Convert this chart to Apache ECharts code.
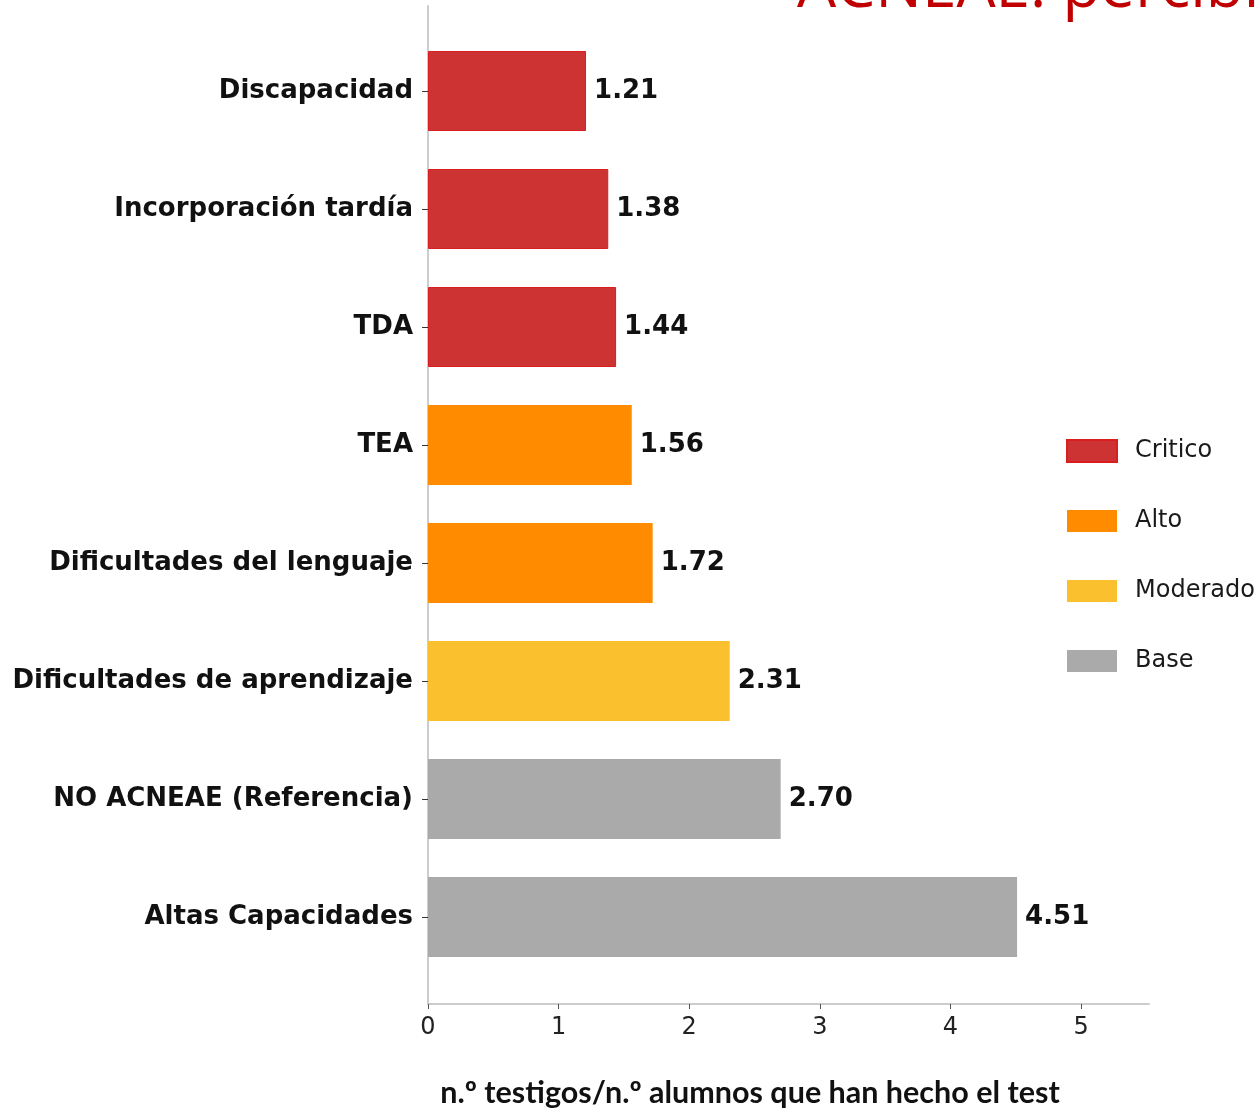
<!DOCTYPE html>
<html><head><meta charset="utf-8">
<script src="https://cdn.jsdelivr.net/npm/echarts@6/dist/echarts.min.js"></script>
<style>html,body{margin:0;padding:0;background:#fff}#c{width:1257px;height:1109px}</style>
</head><body><div id="c"></div>
<script>
const categories = ['Altas Capacidades','NO ACNEAE (Referencia)','Dificultades de aprendizaje','Dificultades del lenguaje','TEA','TDA','Incorporación tardía','Discapacidad'];
const values = [4.51, 2.70, 2.31, 1.72, 1.56, 1.44, 1.38, 1.21];
const levels = ['Base','Base','Moderado','Alto','Alto','Critico','Critico','Critico'];
const levelNames = ['Critico','Alto','Moderado','Base'];
const levelColors = {Critico:'#CD3333', Alto:'#FF8C00', Moderado:'#FBC02D', Base:'#AAAAAA'};
const xTicks = [0, 1, 2, 3, 4, 5];
const xAxisTitle = 'n.º testigos/n.º alumnos que han hecho el test';
const topTitle = 'ACNEAE: percibido';

const chart = echarts.init(document.getElementById('c'));
const series = levelNames.map(lv => ({
  name: lv,
  type: 'bar',
  xAxisIndex: 0, yAxisIndex: 0,
  barWidth: 80,
  barGap: '-100%',
  itemStyle: {
    color: levelColors[lv],
    borderColor: lv === 'Critico' ? '#D81E1E' : levelColors[lv],
    borderWidth: lv === 'Critico' ? 1 : 0
  },
  label: {
    show: true, position: 'right', distance: 8,
    fontFamily: 'DejaVu Sans', fontWeight: 'bold', fontSize: 26, color: '#111',
    formatter: p => Number(p.value).toFixed(2)
  },
  data: values.map((v, i) => levels[i] === lv ? v : '-'),
  animation: false
}));

chart.setOption({
  animation: false,
  grid: [
    {left: 428, right: 108, top: 32, bottom: 133},
    {left: 428, right: 108, top: 6, bottom: 105}
  ],
  xAxis: [
    {gridIndex: 0, type: 'value', min: 0, max: 5.52, interval: 1, offset: 28,
     axisLine: {show: true, lineStyle: {color: '#cccccc', width: 2}},
     axisTick: {show: true, length: 5, lineStyle: {color: '#555'}, customValues: xTicks},
     splitLine: {show: false},
     axisLabel: {margin: 12, fontFamily: "'Liberation Sans Narrow', 'DejaVu Sans'", fontSize: 24, color: '#222',
       customValues: xTicks, formatter: v => String(v)}},
    {gridIndex: 1, type: 'value', min: 0, max: 5.52, show: false}
  ],
  yAxis: [
    {gridIndex: 0, type: 'category', data: categories,
     axisLine: {show: false},
     axisTick: {show: true, alignWithLabel: true, length: 6, lineStyle: {color: '#333'}},
     axisLabel: {margin: 15, fontFamily: 'DejaVu Sans', fontWeight: 'bold', fontSize: 26, color: '#111'}},
    {gridIndex: 1, type: 'value', min: 0, max: 1,
     axisLine: {show: true, lineStyle: {color: '#cccccc', width: 2}},
     axisTick: {show: false}, axisLabel: {show: false}, splitLine: {show: false}}
  ],
  legend: {
    orient: 'vertical', left: 1061, top: 434,
    itemWidth: 50, itemHeight: 22, itemGap: 46,
    icon: 'rect',
    data: levelNames,
    textStyle: {fontFamily: 'DejaVu Sans', fontSize: 24, color: '#1a1a1a', padding: [0, 0, 0, 13]}
  },
  graphic: [
    {type: 'text', x: 750, y: 1093, style: {text: xAxisTitle, font: "bold 30.5px Lato", fill: '#111', textAlign: 'center', textVerticalAlign: 'middle'}},
    {type: 'text', x: 797, y: -42, style: {text: topTitle, font: "62px 'Open Sans'", fill: '#C00000'}}
  ],
  series: series
});
</script></body></html>
